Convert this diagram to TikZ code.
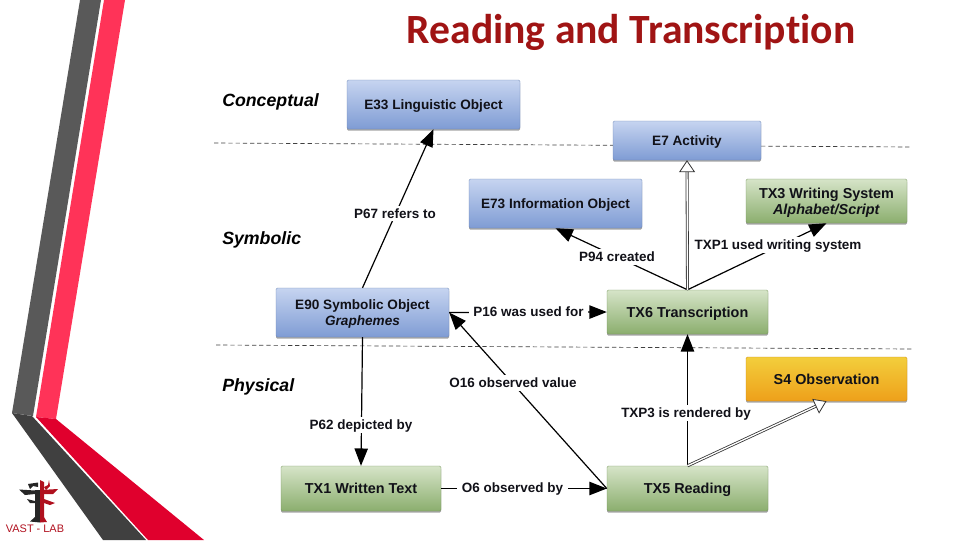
\documentclass[tikz,border=0pt]{standalone}
\usepackage{fontspec}
\setmainfont{Liberation Sans}
\newfontfamily\titlefont[Ligatures=NoCommon]{Carlito}
\usetikzlibrary{arrows.meta,shadows}
\definecolor{bluetop}{HTML}{C6D4F0}
\definecolor{bluebot}{HTML}{7F9CD4}
\definecolor{greentop}{HTML}{D6E4C8}
\definecolor{greenbot}{HTML}{8BAE6E}
\definecolor{orgtop}{HTML}{F3CE3C}
\definecolor{orgbot}{HTML}{EEA01A}
\definecolor{titlered}{HTML}{A01414}
\definecolor{bandgray}{HTML}{595959}
\definecolor{bandpink}{HTML}{FF3358}
\definecolor{banddark}{HTML}{404040}
\definecolor{bandred}{HTML}{E0002D}
\definecolor{logored}{HTML}{B0101E}
\definecolor{txt}{HTML}{111118}
\tikzset{
  x=0.75pt,y=-0.75pt,
  boxbase/.style={rectangle,rounded corners=1pt,draw=#1!85!black,line width=.3pt,
    shading angle=0,align=center,inner sep=0pt,text=txt,text depth=0pt,
    font=\fontsize{10.2pt}{11.8pt}\selectfont\bfseries,
    drop shadow={shadow xshift=0pt,shadow yshift=-1.3pt,opacity=.35,fill=black}},
  bluebox/.style={boxbase=bluebot,top color=bluetop,bottom color=bluebot},
  greenbox/.style={boxbase=greenbot,top color=greentop,bottom color=greenbot,
    font=\fontsize{10.8pt}{11.8pt}\selectfont\bfseries},
  orangebox/.style={boxbase=orgbot,top color=orgtop,bottom color=orgbot,
    font=\fontsize{10.8pt}{11.8pt}\selectfont\bfseries},
  assoc/.style={line width=.9pt,draw=black,-{Triangle[length=13pt,width=10pt]}},
  isa/.style={line width=.6pt,double=white,double distance=1pt,draw=black!80,
     -{Triangle[open,fill=white,length=9pt,width=12pt]}},
  lab/.style={fill=white,inner xsep=3.5pt,inner ysep=2pt,text=txt,text depth=0pt,
    font=\fontsize{10.1pt}{11pt}\selectfont\bfseries},
  layer/.style={text=black,text depth=0pt,font=\fontsize{13.3pt}{15pt}\selectfont\bfseries\itshape},
  divider/.style={line width=.5pt,draw=black!75,dash pattern=on 3.2pt off 2.2pt},
}
\begin{document}
\begin{tikzpicture}
\useasboundingbox (0,0) rectangle (960,540);
% decoration
\fill[bandgray] (80,0) -- (101,0) -- (33,416) -- (12,413) -- cycle;
\fill[bandpink] (104,0) -- (125,0) -- (56,419) -- (36,417) -- cycle;
\fill[banddark] (12,413) -- (32,416) -- (146,540) -- (103,540) -- cycle;
\fill[bandred] (36,417) -- (56,419) -- (204,540) -- (148,540) -- cycle;
% logo
\fill[black!85] (19,489.5) -- (35,490.5) -- (35,494) -- (25,495) -- cycle;
\fill[black!85] (28,484) -- (38,482.5) -- (38,487) -- (33,486) -- (30,489) -- cycle;
\fill[black!85] (27,499) -- (35,501) -- (35,503) -- (30,503) -- cycle;
\fill[black!85] (35,490) -- (40,490) -- (40,522.5) -- (30,521.5) -- (35,517) -- cycle;
\fill[logored] (40,480) -- (44,482) -- (44,517) -- (47,522) -- (40,522.5) -- cycle;
\fill[logored] (40,490) -- (58,489) -- (53,494) -- (44,494) -- cycle;
\fill[logored] (44,499) -- (55,503) -- (50,505) -- (44,503) -- cycle;
\fill[logored] (44,487) -- (48,485) -- (49,480) -- (50,486) -- (46,490) -- cycle;
\node[text=logored,inner sep=0pt,font=\fontsize{8.2pt}{10pt}\selectfont] (logotext) at (35,528.5) {VAST - LAB};
% title
\node[text=titlered,inner sep=0pt,font=\titlefont\fontsize{31.2pt}{34pt}\selectfont\bfseries] (title) at (631,32) {Reading and Transcription};
% dividers
\coordinate (d1a) at (214,143); \coordinate (d1b) at (912,147);
\coordinate (d2a) at (216,345); \coordinate (d2b) at (912,349);
\draw[divider] (d1a) -- (d1b);
\draw[divider] (d2a) -- (d2b);
% layers
\node[layer,anchor=west,inner sep=0pt] (lc) at (222,100) {Conceptual};
\node[layer,anchor=west,inner sep=0pt] (ls) at (222,238) {Symbolic};
\node[layer,anchor=west,inner sep=0pt] (lp) at (222,385) {Physical};
% boxes
\node[bluebox,minimum width=129.75pt,minimum height=36.75pt] (e33) at (433.5,104.5) {E33 Linguistic Object};
\node[bluebox,minimum width=111pt,minimum height=29.25pt] (e7) at (687,140.5) {E7 Activity};
\node[bluebox,minimum width=129.75pt,minimum height=36.75pt] (e73) at (555.5,203.5) {E73 Information Object};
\node[greenbox,minimum width=120.75pt,minimum height=33pt] (tx3) at (826.5,201) {TX3 Writing System\\\textit{Alphabet/Script}};
\node[bluebox,minimum width=129.75pt,minimum height=36.75pt] (e90) at (362.5,312.5) {E90 Symbolic Object\\\textit{Graphemes}};
\node[greenbox,minimum width=120.75pt,minimum height=33pt] (tx6) at (687.5,312) {TX6 Transcription};
\node[orangebox,minimum width=120.75pt,minimum height=33pt] (s4) at (826.5,379) {S4 Observation};
\node[greenbox,minimum width=120pt,minimum height=33.75pt] (tx1) at (361,488.5) {TX1 Written Text};
\node[greenbox,minimum width=120.75pt,minimum height=33.75pt] (tx5) at (687.5,488.5) {TX5 Reading};
% connectors
\draw[assoc] (e90.north) -- (e33.south);
\draw[assoc] (tx6.north) -- (e73.south);
\draw[assoc] (tx6.north) -- (tx3.south);
\draw[isa] (tx6.north) -- (e7.south);
\draw[assoc] (e90.east) -- (tx6.west);
\draw[assoc] (tx5.west) -- (e90.east);
\draw[assoc] (e90.south) -- (tx1.north);
\draw[assoc] (tx1.east) -- (tx5.west);
\draw[assoc] (tx5.north) -- (tx6.south);
\draw[isa] (tx5.north) -- (s4.south);
% labels
\node[lab] (l1) at (395,213.5) {P67 refers to};
\node[lab] (l2) at (617,257) {P94 created};
\node[lab] (l3) at (778,245) {TXP1 used writing system};
\node[lab] (l4) at (528.5,311.5) {P16 was used for};
\node[lab] (l5) at (513,383) {O16 observed value};
\node[lab] (l6) at (361,425) {P62 depicted by};
\node[lab] (l7) at (512.5,487.5) {O6 observed by};
\node[lab] (l8) at (686,413) {TXP3 is rendered by};
\end{tikzpicture}
\end{document}
